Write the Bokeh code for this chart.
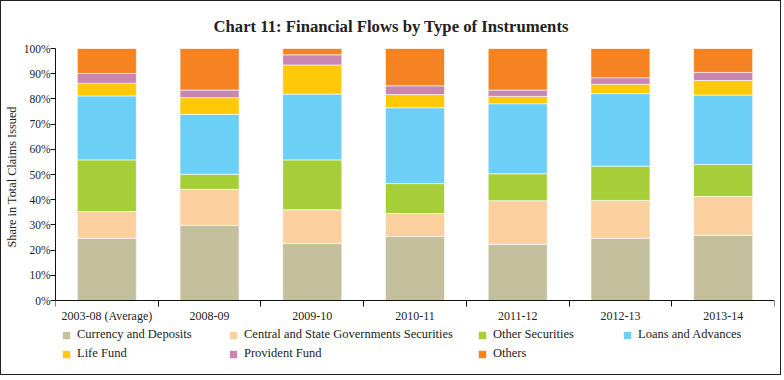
import numpy as np
from bokeh.plotting import figure
from bokeh.models import FixedTicker, PrintfTickFormatter, Legend, LegendItem, ColumnDataSource, Title
from bokeh.embed import file_html
from bokeh.resources import INLINE

categories = ["2003-08 (Average)", "2008-09", "2009-10", "2010-11", "2011-12", "2012-13", "2013-14"]
series_names = ["Currency and Deposits", "Central and State Governments Securities", "Other Securities",
                "Loans and Advances", "Life Fund", "Provident Fund", "Others"]
currency = [24.7, 29.8, 22.6, 25.4, 22.3, 24.7, 25.9]
govt_sec = [10.6, 14.3, 13.4, 9.1, 17.3, 15.0, 15.4]
other_sec = [20.5, 6.0, 19.8, 11.9, 10.7, 13.6, 12.7]
loans = [25.4, 23.8, 26.1, 30.1, 27.8, 28.8, 27.5]
life_fund = [5.0, 6.6, 11.6, 5.2, 2.9, 3.7, 5.8]
provident = [3.9, 3.0, 4.0, 3.5, 2.5, 2.6, 3.2]
others = [9.9, 16.5, 2.5, 14.8, 16.5, 11.6, 9.5]
colors = ["#C4C09D", "#FCD09E", "#A6CE39", "#6CCFF6", "#FFC907", "#C886B0", "#F58322"]

series = [currency, govt_sec, other_sec, loans, life_fund, provident, others]
SERIF = "Liberation Serif"

# layout (pixels)
PLOT_H = 252          # height of the 0-100% band
FRAME_H = 316         # frame extends below the axis to hold the legend
legend_pos = [(6, 22), (173, 22), (422, 22), (567, 22), (6, 3), (173, 3), (422, 3)]

y_start = 100 - 100 * FRAME_H / PLOT_H
p = figure(output_backend="svg", toolbar_location=None,
           frame_width=719, frame_height=FRAME_H,
           min_border_left=53, min_border_right=6, min_border_top=47, min_border_bottom=10,
           x_range=(0, len(categories)), y_range=(y_start, 100))
p.styles = {"border": "1px solid #222"}

xpos = np.arange(len(categories)) + 0.5
bottom = np.zeros(len(categories))
for name, vals, col, pos in zip(series_names, series, colors, legend_pos):
    vals = np.array(vals, dtype=float)
    src = ColumnDataSource(dict(x=xpos, bottom=bottom.copy(), top=bottom + vals))
    r = p.vbar(x="x", bottom="bottom", top="top", width=0.575, source=src,
               fill_color=col, line_color="white", line_alpha=0.6, line_width=1)
    bottom = bottom + vals
    lg = Legend(items=[LegendItem(label=name, renderers=[r])], location=pos,
                label_text_font=SERIF, label_text_font_size="12.5px", label_text_color="#222",
                glyph_width=10, glyph_height=10, label_standoff=6,
                label_height=10, padding=0, margin=0, border_line_color=None,
                background_fill_alpha=0)
    p.add_layout(lg)

p.grid.visible = False
p.outline_line_color = None
p.background_fill_color = "white"

# x axis, drawn at y = 0
xa = p.xaxis[0]
xa.fixed_location = 0
xa.ticker = FixedTicker(ticks=list(xpos), minor_ticks=list(range(len(categories) + 1)))
xa.major_label_overrides = {float(x): c for x, c in zip(xpos, categories)}
xa.major_tick_line_color = None
xa.major_tick_out = 0
xa.major_tick_in = 0
xa.minor_tick_line_color = "#111"
xa.minor_tick_out = 6
xa.minor_tick_in = 0
xa.axis_line_color = "#111"
xa.major_label_text_font = SERIF
xa.major_label_text_font_size = "12px"
xa.major_label_text_color = "#222"
xa.major_label_standoff = 2

# y axis
ya = p.yaxis[0]
ya.bounds = (0, 100)
ya.ticker = FixedTicker(ticks=list(range(0, 101, 10)))
ya.formatter = PrintfTickFormatter(format="%d%%")
ya.major_tick_out = 5
ya.major_tick_in = 0
ya.minor_tick_line_color = None
ya.axis_line_color = "#111"
ya.major_tick_line_color = "#111"
ya.major_label_text_font = SERIF
ya.major_label_text_font_size = "11.5px"
ya.major_label_text_color = "#222"
ya.major_label_standoff = 0

ylab = Title(text="Share in Total Claims Issued", align="left", offset=117,
             text_font=SERIF, text_font_style="normal", text_font_size="12.3px",
             text_color="#222", standoff=3)
p.add_layout(ylab, "left")

# title
p.title.text = "Chart 11: Financial Flows by Type of Instruments"
p.title.align = "left"
p.title.text_font = SERIF
p.title.text_font_style = "bold"
p.title.text_font_size = "16.7px"
p.title.text_color = "#222"
p.title.offset = 158
p.title.standoff = 26

open("out.html", "w").write(file_html(p, INLINE))
